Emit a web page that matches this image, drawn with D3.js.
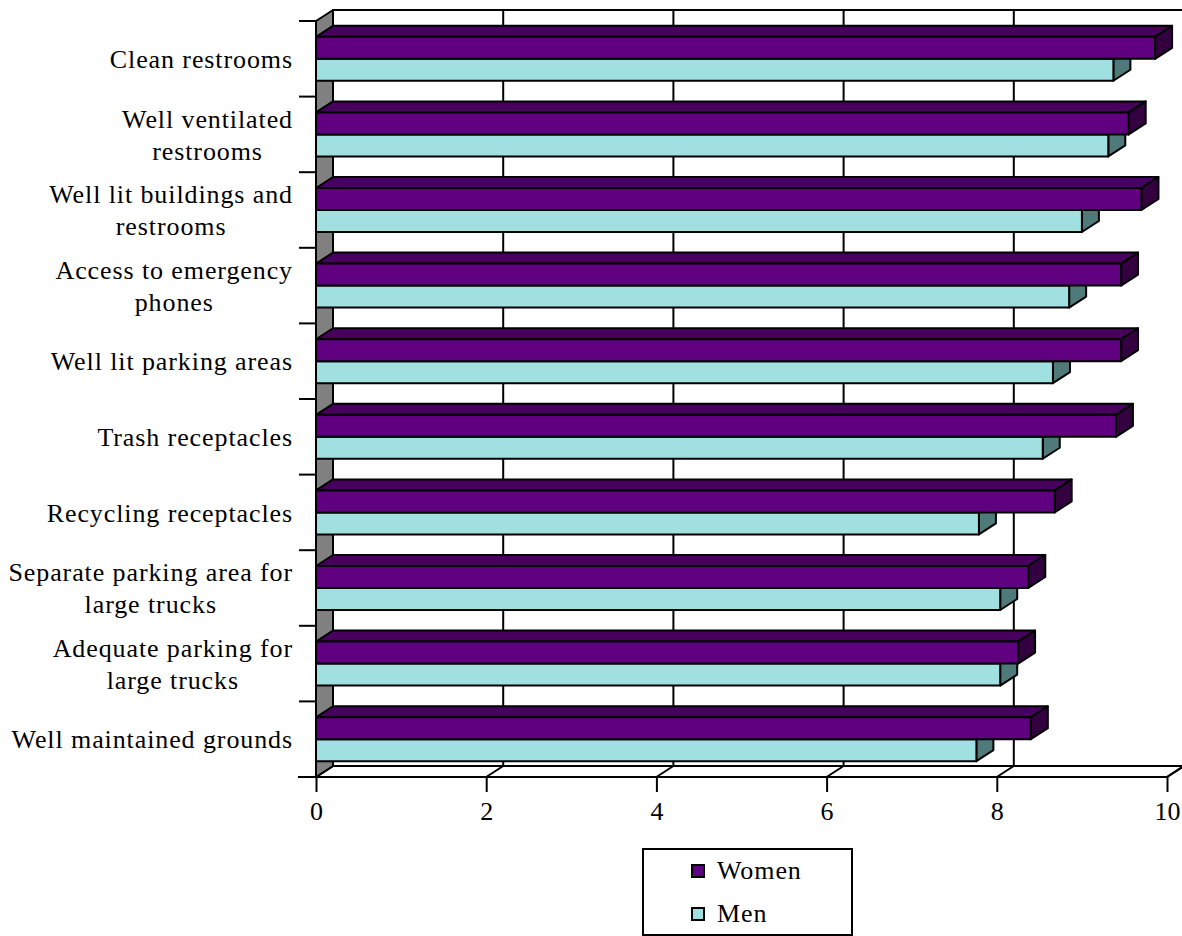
<!DOCTYPE html>
<html>
<head>
<meta charset="utf-8">
<script src="https://cdn.jsdelivr.net/npm/d3@7"></script>
<style>
  html, body { margin: 0; padding: 0; background: #ffffff; }
  svg { display: block; }
  text { font-family: "Liberation Serif", "Times New Roman", serif; fill: #000; }
</style>
</head>
<body>
<svg id="chart" width="1182" height="936"></svg>
<script>
// Importance ratings of rest-area features, by respondent group
const categories = [
  "Clean restrooms",
  "Well ventilated\nrestrooms",
  "Well lit buildings and\nrestrooms",
  "Access to emergency\nphones",
  "Well lit parking areas",
  "Trash receptacles",
  "Recycling receptacles",
  "Separate parking area for\nlarge trucks",
  "Adequate parking for\nlarge trucks",
  "Well maintained grounds"
];
const seriesNames = ["Women", "Men"];
const women = [9.86, 9.55, 9.70, 9.46, 9.46, 9.40, 8.68, 8.37, 8.25, 8.40];
const men   = [9.37, 9.31, 9.00, 8.85, 8.66, 8.54, 7.79, 8.04, 8.04, 7.76];
const xTicks = [0, 2, 4, 6, 8, 10];

const svg = d3.select("#chart");

// front plane of the plot box and the oblique depth offset
const front = { left: 316, right: 1167, top: 21, bottom: 777 };
const DX = 17, DY = -11;

const colors = {
  Women: { front: "#600080", top: "#48005f", side: "#330040" },
  Men:   { front: "#a0e0e0", top: "#78b0b0", side: "#507a7a" }
};
const wallGrey = "#808080";

const x = d3.scaleLinear().domain([0, 10]).range([front.left, front.right]);
const y0 = d3.scaleBand().domain(d3.range(categories.length)).range([front.top, front.bottom]).padding(0);
const y1 = d3.scaleBand().domain(seriesNames).range([0, y0.bandwidth()]).paddingInner(0).paddingOuter(0.72);

const line = (pts) => "M" + pts.map(p => p.join(",")).join("L") + "Z";
const strokeW = 2;

// back wall
const gWalls = svg.append("g");
gWalls.append("rect")
  .attr("x", x(0) + DX).attr("y", front.top + DY)
  .attr("width", x(10) - x(0)).attr("height", front.bottom - front.top)
  .attr("fill", "#fff").attr("stroke", "#000").attr("stroke-width", strokeW);

// vertical gridlines on the back wall
gWalls.selectAll("line.grid")
  .data(xTicks.filter(t => t > 0 && t < 10))
  .join("line")
  .attr("x1", d => x(d) + DX).attr("x2", d => x(d) + DX)
  .attr("y1", front.top + DY).attr("y2", front.bottom + DY)
  .attr("stroke", "#000").attr("stroke-width", strokeW);

// floor
gWalls.append("path")
  .attr("d", line([[x(0), front.bottom], [x(0) + DX, front.bottom + DY],
                   [x(10) + DX, front.bottom + DY], [x(10), front.bottom]]))
  .attr("fill", "#fff").attr("stroke", "#000").attr("stroke-width", strokeW);
gWalls.selectAll("line.floorgrid")
  .data(xTicks)
  .join("line")
  .attr("x1", d => x(d)).attr("y1", front.bottom)
  .attr("x2", d => x(d) + DX).attr("y2", front.bottom + DY)
  .attr("stroke", "#000").attr("stroke-width", strokeW);

// left side wall
gWalls.append("path")
  .attr("d", line([[x(0), front.top], [x(0) + DX, front.top + DY],
                   [x(0) + DX, front.bottom + DY], [x(0), front.bottom]]))
  .attr("fill", wallGrey).attr("stroke", "#000").attr("stroke-width", strokeW)
  .attr("stroke-linejoin", "round");

// bars: Men first so the Women bar covers its top face
const gBars = svg.append("g").attr("stroke", "#000").attr("stroke-width", strokeW).attr("stroke-linejoin", "round");
categories.forEach((c, i) => {
  const vals = { Women: women[i], Men: men[i] };
  ["Men", "Women"].forEach(s => {
    const v = vals[s];
    const yt = y0(i) + y1(s);
    const h = y1.bandwidth();
    const x0 = x(0), xv = x(v);
    const g = gBars.append("g");
    g.append("path")
      .attr("d", line([[x0, yt], [x0 + DX, yt + DY], [xv + DX, yt + DY], [xv, yt]]))
      .attr("fill", colors[s].top);
    g.append("path")
      .attr("d", line([[xv, yt], [xv + DX, yt + DY], [xv + DX, yt + h + DY], [xv, yt + h]]))
      .attr("fill", colors[s].side);
    g.append("rect")
      .attr("x", x0).attr("y", yt).attr("width", xv - x0).attr("height", h)
      .attr("fill", colors[s].front);
  });
});

// left axis: front edge and ticks on category boundaries
const gAxis = svg.append("g").attr("stroke", "#000").attr("stroke-width", strokeW);
gAxis.append("line")
  .attr("x1", x(0)).attr("x2", x(0)).attr("y1", front.top).attr("y2", front.bottom);
const bounds = d3.range(categories.length).map(i => y0(i)).concat([y0(categories.length - 1) + y0.bandwidth()]);
gAxis.selectAll("line.ytick").data(bounds).join("line")
  .attr("x1", x(0) - 17).attr("x2", x(0)).attr("y1", d => d).attr("y2", d => d);

// bottom axis
const xAxis = d3.axisBottom(x).tickValues(xTicks).tickSize(15).tickPadding(10).tickSizeOuter(0);
const gx = svg.append("g").attr("transform", `translate(0,${front.bottom})`).call(xAxis);
gx.select(".domain").attr("d", `M${x(0) - 18},0H${x(10)}`).attr("stroke", "#000").attr("stroke-width", strokeW);
gx.selectAll(".tick line").attr("stroke", "#000").attr("stroke-width", strokeW);
gx.selectAll(".tick text")
  .attr("font-family", "Liberation Serif, Times New Roman, serif")
  .attr("font-size", 26).attr("fill", "#000");

// category labels: block right-aligned, lines centred within the block
const labelRight = 293;
const lineGap = 32;
const gLabels = svg.append("g").attr("font-size", 26).attr("letter-spacing", 0.9);
categories.forEach((c, i) => {
  const lines = c.split("\n");
  const cy = y0(i) + y0.bandwidth() / 2;
  const t = gLabels.append("text").attr("text-anchor", "middle");
  lines.forEach((ln, k) => {
    t.append("tspan").text(ln)
      .attr("y", cy + (k - (lines.length - 1) / 2) * lineGap)
      .attr("dy", "0.35em");
  });
  let maxW = 0;
  t.selectAll("tspan").each(function () { maxW = Math.max(maxW, this.getComputedTextLength()); });
  t.selectAll("tspan").attr("x", labelRight - maxW / 2);
});

// legend
const gLeg = svg.append("g");
gLeg.append("rect").attr("x", 643).attr("y", 849).attr("width", 209).attr("height", 86)
  .attr("fill", "#fff").attr("stroke", "#000").attr("stroke-width", strokeW);
seriesNames.forEach((s, k) => {
  const yy = 871 + k * 43;
  gLeg.append("rect").attr("x", 692).attr("y", yy - 6).attr("width", 12).attr("height", 12)
    .attr("fill", colors[s].front).attr("stroke", "#000").attr("stroke-width", 2);
  gLeg.append("text").attr("x", 717).attr("y", yy + 8)
    .attr("font-size", 26).attr("letter-spacing", 0.9).text(s);
});
</script>
</body>
</html>
